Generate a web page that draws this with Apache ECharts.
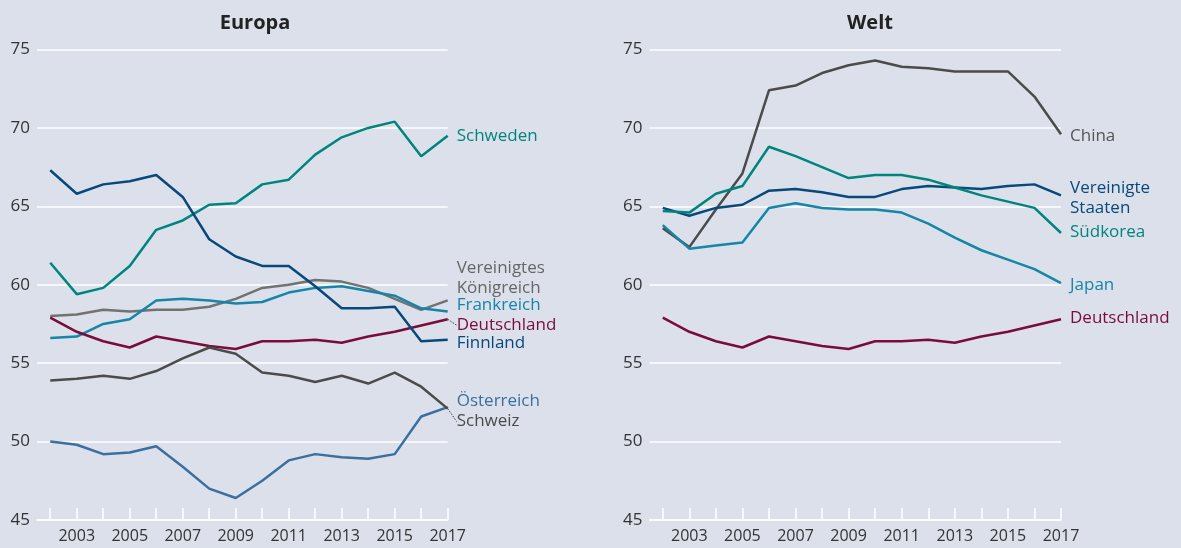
<!DOCTYPE html>
<html>
<head>
<meta charset="utf-8">
<script src="https://cdn.jsdelivr.net/npm/echarts@6/dist/echarts.min.js"></script>
<style>
html,body{margin:0;padding:0;background:#dbe0eb;}
#c{width:1181px;height:548px;}
</style>
</head>
<body>
<div id="c"></div>
<script>
const years = [2002,2003,2004,2005,2006,2007,2008,2009,2010,2011,2012,2013,2014,2015,2016,2017];
const tickYears = [2002,2003,2004,2005,2006,2007,2008,2009,2010,2011,2012,2013,2014,2015,2016,2017];
const labelYears = [2003,2005,2007,2009,2011,2013,2015,2017];
const yTicks = [45,50,55,60,65,70,75];

// Europa
const schweden     = [61.4,59.4,59.8,61.2,63.5,64.1,65.1,65.2,66.4,66.7,68.3,69.4,70.0,70.4,68.2,69.5];
const vkoenigreich = [58.0,58.1,58.4,58.3,58.4,58.4,58.6,59.1,59.8,60.0,60.3,60.2,59.8,59.1,58.4,59.0];
const frankreich   = [56.6,56.7,57.5,57.8,59.0,59.1,59.0,58.8,58.9,59.5,59.8,59.9,59.6,59.3,58.5,58.3];
const deutschland  = [57.9,57.0,56.4,56.0,56.7,56.4,56.1,55.9,56.4,56.4,56.5,56.3,56.7,57.0,57.4,57.8];
const finnland     = [67.3,65.8,66.4,66.6,67.0,65.6,62.9,61.8,61.2,61.2,59.9,58.5,58.5,58.6,56.4,56.5];
const oesterreich  = [50.0,49.8,49.2,49.3,49.7,48.4,47.0,46.4,47.5,48.8,49.2,49.0,48.9,49.2,51.6,52.2];
const schweiz      = [53.9,54.0,54.2,54.0,54.5,55.3,56.0,55.6,54.4,54.2,53.8,54.2,53.7,54.4,53.5,52.1];

// Welt
const china        = [63.6,62.4,64.8,67.1,72.4,72.7,73.5,74.0,74.3,73.9,73.8,73.6,73.6,73.6,72.0,69.6];
const usa          = [64.9,64.4,64.9,65.1,66.0,66.1,65.9,65.6,65.6,66.1,66.3,66.2,66.1,66.3,66.4,65.7];
const suedkorea    = [64.7,64.6,65.8,66.3,68.8,68.2,67.5,66.8,67.0,67.0,66.7,66.2,65.7,65.3,64.9,63.3];
const japan        = [63.8,62.3,62.5,62.7,64.9,65.2,64.9,64.8,64.8,64.6,63.9,63.0,62.2,61.6,61.0,60.1];

const C = {
  teal:'#00857d', light:'#1585a8', red:'#7b0b3b', dark:'#07497b',
  steel:'#3a6f9f', gray:'#727272', dgray:'#4b4b4b'
};

function mk(name, vals, color, labelText, labelColor, dy, gi, leader) {
  const data = years.map((y, i) => {
    const item = {value: [y, vals[i]]};
    if (i === years.length - 1) {
      item.label = {
        show: true, position: 'right', distance: 9,
        formatter: labelText, color: labelColor || color,
        fontSize: 17, lineHeight: 20, fontFamily: 'Open Sans'
      };
    }
    return item;
  });
  const s = {
    name, type: 'line', data, xAxisIndex: gi, yAxisIndex: gi,
    symbol: 'circle', symbolSize: 0, showSymbol: true,
    lineStyle: {color, width: 2.5}, itemStyle: {color},
    label: {show: false}, emphasis: {disabled: true},
    animation: false, z: 3,
    labelLayout: {dy: dy, hideOverlap: false}
  };
  if (leader) {
    s.labelLine = {show: true, lineStyle: {color: '#333', width: 1, type: [1.5, 1.5]}};
  }
  return s;
}

const axisFont = {fontSize: 17, color: '#333', fontFamily: 'Open Sans'};

function xAx(gi) {
  return {
    gridIndex: gi, type: 'value', min: 2001.5, max: 2017,
    axisLine: {show: true, lineStyle: {color: '#fff', width: 1.5}},
    axisTick: {show: true, inside: true, length: 12, lineStyle: {color: '#fff', width: 1.5}, customValues: tickYears},
    axisLabel: {show: true, customValues: labelYears, margin: 8, fontSize: 16, color: '#333', fontFamily: 'Open Sans', formatter: v => String(v)},
    splitLine: {show: false}
  };
}
function yAx(gi) {
  return {
    gridIndex: gi, type: 'value', min: 45, max: 75, interval: 5,
    axisLine: {show: false}, axisTick: {show: false},
    axisLabel: Object.assign({margin: 7}, axisFont),
    splitLine: {show: true, lineStyle: {color: '#fff', width: 1.5}}
  };
}

const chart = echarts.init(document.getElementById('c'), null, {renderer: 'canvas'});
chart.setOption({
  backgroundColor: '#dbe0eb',
  animation: false,
  title: [
    {text: 'Europa', left: 250, top: 8, textAlign: 'center', textStyle: {fontSize: 20, fontWeight: 'bold', color: '#222', fontFamily: 'Open Sans'}},
    {text: 'Welt', left: 865, top: 8, textAlign: 'center', textStyle: {fontSize: 20, fontWeight: 'bold', color: '#222', fontFamily: 'Open Sans'}}
  ],
  grid: [
    {left: 37, right: 733.3, top: 49.5, bottom: 28},
    {left: 649.5, right: 120, top: 49.5, bottom: 28}
  ],
  xAxis: [xAx(0), xAx(1)],
  yAxis: [yAx(0), yAx(1)],
  series: [
    mk('Schweden', schweden, C.teal, 'Schweden', null, 0, 0),
    mk('Vereinigtes Königreich', vkoenigreich, C.gray, 'Vereinigtes\nKönigreich', '#666', -22, 0),
    mk('Frankreich', frankreich, C.light, 'Frankreich', null, -6, 0),
    mk('Deutschland', deutschland, C.red, 'Deutschland', null, 6, 0, true),
    mk('Finnland', finnland, C.dark, 'Finnland', null, 4, 0),
    mk('Österreich', oesterreich, C.steel, 'Österreich', null, -6, 0),
    mk('Schweiz', schweiz, C.dgray, 'Schweiz', null, 13, 0, true),
    mk('China', china, C.dgray, 'China', '#555', 2, 1),
    mk('Vereinigte Staaten', usa, C.dark, 'Vereinigte\nStaaten', null, 3, 1),
    mk('Südkorea', suedkorea, C.teal, 'Südkorea', null, -1, 1),
    mk('Japan', japan, C.light, 'Japan', null, 2, 1),
    mk('Deutschland ', deutschland, C.red, 'Deutschland', null, -1, 1)
  ]
});
</script>
</body>
</html>
